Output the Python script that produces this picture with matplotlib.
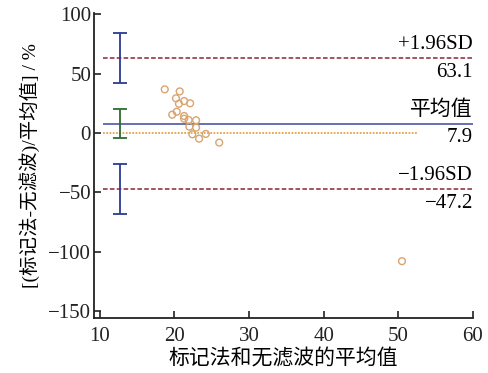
import numpy as np
import matplotlib
matplotlib.use("Agg")
from matplotlib import pyplot as plt

plt.rcParams['font.family'] = ['Liberation Serif', 'Noto Sans CJK SC']
plt.rcParams['axes.unicode_minus'] = True

# scatter points: mean of both methods vs relative difference (%)
mean_x = [18.7, 20.7, 20.2, 20.6, 21.3, 22.1, 20.3, 19.7, 21.3, 21.3,
          21.9, 22.9, 22.0, 22.9, 22.4, 23.3, 24.2, 26.0, 50.5]
diff_y = [36.7, 35.0, 29.2, 24.6, 26.9, 25.0, 17.9, 15.4, 14.3, 12.0,
          10.9, 10.7, 5.3, 4.5, -1.1, -4.8, -0.8, -8.1, -108.0]

bias = 7.9
upper_loa = 63.1
lower_loa = -47.2

# confidence intervals drawn as error bars at the left
ci_x = 12.7
ci_low = [42, -4, -68]
ci_high = [84, 20, -26]
ci_colors = ['#2b3a94', '#2f6b2f', '#2b3a94']

fig = plt.figure(figsize=(4.89, 3.73), dpi=100)
ax = fig.add_axes([0.192, 0.147, 0.775, 0.818])

x0, x1 = 10.4, 60
ax.hlines([upper_loa, lower_loa], x0, x1, colors='#8a2434', linestyles=(0, (3, 1.5)), lw=1.1)
ax.hlines(bias, x0, x1, colors='#3a4aa0', lw=1.1)
ax.hlines(0, x0, 52.7, colors='#e3a54a', linestyles=(0, (1, 0.8)), lw=1.3)

for lo, hi, c in zip(ci_low, ci_high, ci_colors):
    ax.errorbar(ci_x, (lo + hi) / 2, yerr=(hi - lo) / 2, fmt='none', ecolor=c,
                elinewidth=1.3, capsize=5, capthick=1.3)

ax.scatter(mean_x, diff_y, s=24, facecolors='none', edgecolors='#d9a46e', linewidths=1.0, zorder=3)

fs = 15
ax.text(60, upper_loa + 3, '+1.96SD', ha='right', va='bottom', fontsize=fs)
ax.text(60, upper_loa - 4, f'{upper_loa}', ha='right', va='top', fontsize=fs)
ax.text(60, bias + 3, '平均值', ha='right', va='bottom', fontsize=fs)
ax.text(60, bias - 4, f'{bias}', ha='right', va='top', fontsize=fs)
ax.text(60, lower_loa + 3, '\u22121.96SD', ha='right', va='bottom', fontsize=fs)
ax.text(60, lower_loa - 4, f'\u2212{abs(lower_loa)}', ha='right', va='top', fontsize=fs)

ax.set_xlim(9.2, 60)
ax.set_ylim(-156, 101)
ax.set_xticks([10, 20, 30, 40, 50, 60])
ax.set_yticks([-150, -100, -50, 0, 50, 100])
ax.tick_params(direction='in', length=5, width=1.2, labelsize=fs, colors='#222222', pad=2)
ax.tick_params(axis='x', pad=6)
ax.spines['top'].set_visible(False)
ax.spines['right'].set_visible(False)
for s in ['left', 'bottom']:
    ax.spines[s].set_linewidth(1.3)
    ax.spines[s].set_color('#222222')
ax.set_xlabel('标记法和无滤波的平均值', fontsize=15, labelpad=3)
ax.set_ylabel('[(标记法-无滤波)/平均值] / %', fontsize=14, labelpad=6)

plt.savefig('out.png', dpi=100)
